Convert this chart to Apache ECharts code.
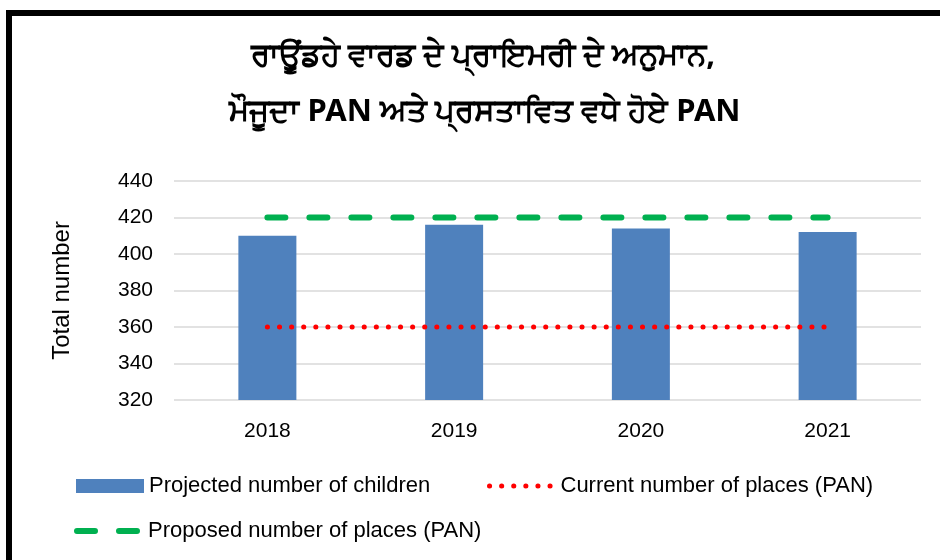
<!DOCTYPE html>
<html>
<head>
<meta charset="utf-8">
<script src="https://cdn.jsdelivr.net/npm/echarts@6/dist/echarts.min.js"></script>
<style>
html,body{margin:0;padding:0;background:#fff;}
#c{width:940px;height:560px;}
</style>
</head>
<body>
<div id="c"></div>
<script>
const titleLines = ['ਰਾਊਂਡਹੇ ਵਾਰਡ ਦੇ ਪ੍ਰਾਇਮਰੀ ਦੇ ਅਨੁਮਾਨ,', 'ਮੌਜੂਦਾ PAN ਅਤੇ ਪ੍ਰਸਤਾਵਿਤ ਵਧੇ ਹੋਏ PAN'];
const categories = ['2018', '2019', '2020', '2021'];
const projected = [410, 416, 414, 412];
const currentPAN = [360, 360, 360, 360];
const proposedPAN = [420, 420, 420, 420];
const yTicks = { min: 320, max: 440, interval: 20 };
const seriesNames = ['Projected number of children', 'Current number of places (PAN)', 'Proposed number of places (PAN)'];
const yName = 'Total number';

const chart = echarts.init(document.getElementById('c'), null, {renderer: 'canvas'});
const fontMain = 'Liberation Sans, Arial, sans-serif';
const fontLegend = '"Liberation Sans Narrow", "Liberation Sans", sans-serif';
const legendText = {fontFamily: fontLegend, fontSize: 22, color: '#000'};
const redLine = {color: '#ff0000', width: 5, type: [0.1, 12], cap: 'round'};
const greenLine = {color: '#00b050', width: 6, type: [18, 24], cap: 'round'};

chart.setOption({
  animation: false,
  backgroundColor: '#fff',
  title: [
    {text: titleLines[0], left: 478, top: 36, textAlign: 'center',
     textStyle: {fontSize: 31, fontWeight: 'bold', color: '#000', fontFamily: '"Noto Sans", sans-serif'}},
    {text: titleLines[1], left: 480, top: 92, textAlign: 'center',
     textStyle: {fontSize: 31, fontWeight: 'bold', color: '#000', fontFamily: '"Noto Sans", sans-serif'}}
  ],
  graphic: [
    {type: 'rect', shape: {x: 6, y: 10, width: 940, height: 6}, style: {fill: '#000'}},
    {type: 'rect', shape: {x: 6, y: 10, width: 6, height: 560}, style: {fill: '#000'}}
  ],
  legend: [
    {data: [seriesNames[0]], left: 76, top: 475, padding: 0, itemWidth: 68, itemHeight: 14,
     textStyle: legendText, icon: 'rect', selectedMode: false},
    {data: [seriesNames[1]], left: 487, top: 475, padding: 0, itemWidth: 66, itemHeight: 14,
     textStyle: legendText, selectedMode: false,
     itemStyle: {opacity: 0}, lineStyle: redLine},
    {data: [seriesNames[2]], left: 74, top: 520, padding: 0, itemWidth: 66, itemHeight: 14,
     textStyle: legendText, selectedMode: false,
     itemStyle: {opacity: 0}, lineStyle: greenLine}
  ],
  grid: {left: 174, right: 19, top: 181, bottom: 160},
  xAxis: {
    type: 'category', data: categories,
    axisLine: {show: false}, axisTick: {show: false},
    axisLabel: {fontSize: 21, color: '#000', margin: 21, fontFamily: fontMain}
  },
  yAxis: {
    type: 'value', min: yTicks.min, max: yTicks.max, interval: yTicks.interval,
    name: yName, nameLocation: 'middle', nameGap: 100, nameRotate: 90,
    nameTextStyle: {fontSize: 24, color: '#000', fontFamily: fontMain},
    axisLine: {show: false}, axisTick: {show: false},
    axisLabel: {fontSize: 21, color: '#000', margin: 21, fontFamily: fontMain},
    splitLine: {lineStyle: {color: '#d9d9d9', width: 1.5}}
  },
  series: [
    {name: seriesNames[0], type: 'bar', data: projected, barWidth: 58,
     itemStyle: {color: '#4f81bd'}, z: 1},
    {name: seriesNames[1], type: 'line', data: currentPAN, symbol: 'none',
     lineStyle: redLine, z: 3},
    {name: seriesNames[2], type: 'line', data: proposedPAN, symbol: 'none',
     lineStyle: greenLine, z: 3}
  ]
});
</script>
</body>
</html>
